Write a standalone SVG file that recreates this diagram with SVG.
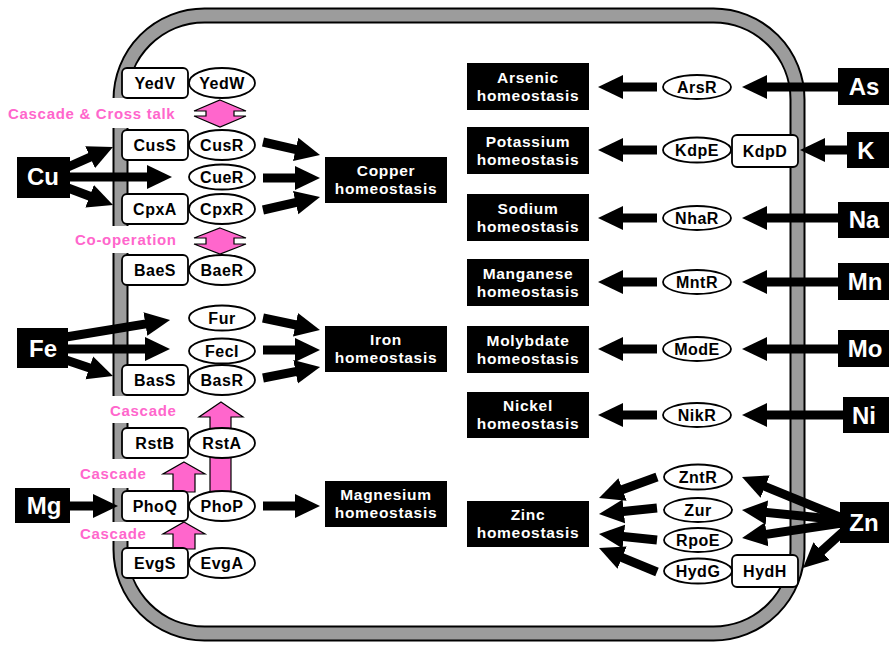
<svg xmlns="http://www.w3.org/2000/svg" width="889" height="645" viewBox="0 0 889 645">
  <style>
    text { font-family: "Liberation Sans", Arial, Helvetica, sans-serif; font-weight: bold; }
    .box { fill: #fff; stroke: #000; stroke-width: 1.8; }
    .lbl { font-size: 16px; letter-spacing: 0.5px; text-anchor: middle; fill: #000; }
    .ion { fill: #000; }
    .ion-t { font-size: 24px; text-anchor: middle; fill: #fff; }
    .home { fill: #000; }
    .home-t { font-size: 15.5px; letter-spacing: 0.7px; text-anchor: middle; fill: #fff; }
    .note { font-size: 15px; letter-spacing: 0.7px; fill: #ff66cc; }
    .pk { fill: #ff66cc; stroke: #000; stroke-width: 1.2; stroke-linejoin: miter; }
    .arr { fill: none; stroke: #000; stroke-width: 9; marker-end: url(#ah); }
    .mask { fill: #fff; }
  </style>
  <defs>
    <marker id="ah" markerUnits="userSpaceOnUse" markerWidth="25" markerHeight="25" viewBox="0 0 25 25" refX="13" refY="12.5" orient="auto">
      <path d="M0,0.5 L25,12.5 L0,24.5 z" fill="#000"/>
    </marker>
  </defs>

  <rect width="889" height="645" fill="#fff"/>

  <!-- cell membrane: grey band with black edges -->
  <g id="membrane">
    <rect x="120.5" y="15.5" width="677" height="618" rx="84" ry="84" fill="none" stroke="#000" stroke-width="16"/>
    <rect x="120.5" y="15.5" width="677" height="618" rx="84" ry="84" fill="none" stroke="#9c9c9c" stroke-width="12"/>
    <!-- openings in the membrane next to the side labels -->
    <rect class="mask" x="104" y="98" width="32" height="30"/>
    <rect class="mask" x="104" y="226" width="32" height="27"/>
    <rect class="mask" x="104" y="396" width="32" height="27"/>
    <rect class="mask" x="104" y="459" width="32" height="29"/>
    <rect class="mask" x="104" y="522" width="32" height="19"/>
  </g>

  <!-- interaction labels -->
  <g id="notes">
    <text class="note" x="8" y="119">Cascade &amp; Cross talk</text>
    <text class="note" x="75" y="245">Co-operation</text>
    <text class="note" x="110" y="416">Cascade</text>
    <text class="note" x="80" y="479">Cascade</text>
    <text class="note" x="80" y="539">Cascade</text>
  </g>

  <g id="connectors">
    <!-- Cu inputs -->
    <path class="arr" d="M68,167 L102,151.9"/>
    <path class="arr" d="M68,177 L160,177"/>
    <path class="arr" d="M68,188 L101.8,200.8"/>
    <!-- to copper homeostasis -->
    <path class="arr" d="M263,142 L308.3,152.3"/>
    <path class="arr" d="M263,178 L308,178"/>
    <path class="arr" d="M263,210 L308.3,199.7"/>
    <!-- Fe inputs -->
    <path class="arr" d="M66,337 L158.2,321.9"/>
    <path class="arr" d="M66,349 L158,349"/>
    <path class="arr" d="M66,360 L101.6,372.1"/>
    <!-- to iron homeostasis -->
    <path class="arr" d="M263,318 L308.2,327.5"/>
    <path class="arr" d="M263,350 L308,350"/>
    <path class="arr" d="M263,378 L308.3,369.2"/>
    <!-- Mg input and magnesium homeostasis -->
    <path class="arr" d="M68,506 L106,506"/>
    <path class="arr" d="M263,506 L308,506"/>

    <!-- cross-regulation (pink) -->
    <polygon class="pk" points="220,100 246,111 234,111 234,116 246,116 220,127 194,116 206,116 206,111 194,111"/>
    <polygon class="pk" points="220,228 246,238 234,238 234,244 246,244 220,254 194,244 206,244 206,238 194,238"/>
    <polygon class="pk" points="221,402 243,417 231,417 231,493 210,493 210,417 199,417"/>
    <polygon class="pk" points="184,462 205,474 195,474 195,492 173,492 173,474 163,474"/>
    <polygon class="pk" points="184,522 205,534 195,534 195,549 173,549 173,534 163,534"/>

    <!-- right side: ion -> regulator -->
    <path class="arr" d="M842,87 L754,87"/>
    <path class="arr" d="M850,150 L812,150"/>
    <path class="arr" d="M842,218 L754,218"/>
    <path class="arr" d="M842,282 L754,282"/>
    <path class="arr" d="M842,349 L754,349"/>
    <path class="arr" d="M846,415 L754,415"/>
    <!-- right side: regulator -> homeostasis -->
    <path class="arr" d="M657,87 L610,87"/>
    <path class="arr" d="M657,150 L610,150"/>
    <path class="arr" d="M657,218 L610,218"/>
    <path class="arr" d="M657,282 L610,282"/>
    <path class="arr" d="M657,349 L610,349"/>
    <path class="arr" d="M657,415 L610,415"/>
    <!-- Zn inputs -->
    <path class="arr" d="M842,518 L753.1,481.6"/>
    <path class="arr" d="M842,520 L753.9,511.2"/>
    <path class="arr" d="M842,523 L753.9,536.2"/>
    <path class="arr" d="M845,530 L811.9,559.9"/>
    <!-- to zinc homeostasis -->
    <path class="arr" d="M657,477 L610.3,493.9"/>
    <path class="arr" d="M657,508 L610.9,512.8"/>
    <path class="arr" d="M657,540 L610.9,535.2"/>
    <path class="arr" d="M657,572 L610.1,552.6"/>
  </g>

  <!-- metal ions -->
  <g id="ion-Cu"><rect class="ion" x="17" y="157" width="53" height="41"/><text class="ion-t" x="43" y="185">Cu</text></g>
  <g id="ion-Fe"><rect class="ion" x="17" y="328" width="51" height="40"/><text class="ion-t" x="43" y="357">Fe</text></g>
  <g id="ion-Mg"><rect class="ion" x="15" y="488" width="55" height="35"/><text class="ion-t" x="44" y="514">Mg</text></g>
  <g id="ion-As"><rect class="ion" x="838" y="68" width="51" height="37"/><text class="ion-t" x="864" y="95">As</text></g>
  <g id="ion-K"><rect class="ion" x="847" y="132" width="42" height="36"/><text class="ion-t" x="866" y="159">K</text></g>
  <g id="ion-Na"><rect class="ion" x="838" y="202" width="51" height="36"/><text class="ion-t" x="864" y="228">Na</text></g>
  <g id="ion-Mn"><rect class="ion" x="838" y="263" width="51" height="37"/><text class="ion-t" x="865" y="290">Mn</text></g>
  <g id="ion-Mo"><rect class="ion" x="838" y="330" width="51" height="37"/><text class="ion-t" x="865" y="357">Mo</text></g>
  <g id="ion-Ni"><rect class="ion" x="843" y="397" width="46" height="36"/><text class="ion-t" x="864" y="424">Ni</text></g>
  <g id="ion-Zn"><rect class="ion" x="840" y="502" width="49" height="41"/><text class="ion-t" x="864" y="531">Zn</text></g>

  <!-- sensor kinases (membrane) -->
  <g id="YedV"><rect class="box" x="122" y="68" width="66" height="30" rx="5"/><text class="lbl" x="155" y="88.5">YedV</text></g>
  <g id="CusS"><rect class="box" x="122" y="130" width="66" height="30" rx="5"/><text class="lbl" x="155" y="150.5">CusS</text></g>
  <g id="CpxA"><rect class="box" x="122" y="194" width="66" height="30" rx="5"/><text class="lbl" x="155" y="214.5">CpxA</text></g>
  <g id="BaeS"><rect class="box" x="122" y="255" width="66" height="30" rx="5"/><text class="lbl" x="155" y="275.5">BaeS</text></g>
  <g id="BasS"><rect class="box" x="122" y="365" width="66" height="30" rx="5"/><text class="lbl" x="155" y="385.5">BasS</text></g>
  <g id="RstB"><rect class="box" x="122" y="428" width="66" height="30" rx="5"/><text class="lbl" x="155" y="448.5">RstB</text></g>
  <g id="PhoQ"><rect class="box" x="122" y="491" width="66" height="30" rx="5"/><text class="lbl" x="155" y="511.5">PhoQ</text></g>
  <g id="EvgS"><rect class="box" x="122" y="548" width="66" height="30" rx="5"/><text class="lbl" x="155" y="568.5">EvgS</text></g>
  <g id="KdpD"><rect class="box" x="732" y="135" width="66" height="32" rx="5"/><text class="lbl" x="765" y="156.5">KdpD</text></g>
  <g id="HydH"><rect class="box" x="732" y="555" width="66" height="32" rx="5"/><text class="lbl" x="765" y="576.5">HydH</text></g>

  <!-- regulators -->
  <g id="YedW"><ellipse class="box" cx="222" cy="83" rx="33" ry="15"/><text class="lbl" x="222" y="88.5">YedW</text></g>
  <g id="CusR"><ellipse class="box" cx="222" cy="145" rx="33" ry="15"/><text class="lbl" x="222" y="150.5">CusR</text></g>
  <g id="CueR"><ellipse class="box" cx="222" cy="177" rx="33" ry="12.5"/><text class="lbl" x="222" y="182.5">CueR</text></g>
  <g id="CpxR"><ellipse class="box" cx="222" cy="209" rx="33" ry="15"/><text class="lbl" x="222" y="214.5">CpxR</text></g>
  <g id="BaeR"><ellipse class="box" cx="222" cy="270" rx="33" ry="15"/><text class="lbl" x="222" y="275.5">BaeR</text></g>
  <g id="Fur"><ellipse class="box" cx="222" cy="318" rx="33" ry="12.5"/><text class="lbl" x="222" y="323.5">Fur</text></g>
  <g id="FecI"><ellipse class="box" cx="222" cy="351" rx="33" ry="12.5"/><text class="lbl" x="222" y="356.5">FecI</text></g>
  <g id="BasR"><ellipse class="box" cx="222" cy="380" rx="33" ry="15"/><text class="lbl" x="222" y="385.5">BasR</text></g>
  <g id="RstA"><ellipse class="box" cx="222" cy="443" rx="33" ry="15"/><text class="lbl" x="222" y="448.5">RstA</text></g>
  <g id="PhoP"><ellipse class="box" cx="222" cy="506" rx="33" ry="15"/><text class="lbl" x="222" y="511.5">PhoP</text></g>
  <g id="EvgA"><ellipse class="box" cx="222" cy="563" rx="33" ry="15"/><text class="lbl" x="222" y="568.5">EvgA</text></g>
  <g id="ArsR"><ellipse class="box" cx="697" cy="87" rx="34" ry="12"/><text class="lbl" x="697" y="92.5">ArsR</text></g>
  <g id="KdpE"><ellipse class="box" cx="697" cy="150" rx="34" ry="12.5"/><text class="lbl" x="697" y="155.5">KdpE</text></g>
  <g id="NhaR"><ellipse class="box" cx="697" cy="218" rx="34" ry="12"/><text class="lbl" x="697" y="223.5">NhaR</text></g>
  <g id="MntR"><ellipse class="box" cx="697" cy="282" rx="34" ry="12"/><text class="lbl" x="697" y="287.5">MntR</text></g>
  <g id="ModE"><ellipse class="box" cx="697" cy="349" rx="34" ry="12"/><text class="lbl" x="697" y="354.5">ModE</text></g>
  <g id="NikR"><ellipse class="box" cx="697" cy="415" rx="34" ry="12"/><text class="lbl" x="697" y="420.5">NikR</text></g>
  <g id="ZntR"><ellipse class="box" cx="698" cy="477" rx="34" ry="12.5"/><text class="lbl" x="698" y="482.5">ZntR</text></g>
  <g id="Zur"><ellipse class="box" cx="698" cy="510" rx="34" ry="12"/><text class="lbl" x="698" y="515.5">Zur</text></g>
  <g id="RpoE"><ellipse class="box" cx="698" cy="540" rx="34" ry="12"/><text class="lbl" x="698" y="545.5">RpoE</text></g>
  <g id="HydG"><ellipse class="box" cx="698" cy="571" rx="34" ry="12.5"/><text class="lbl" x="698" y="576.5">HydG</text></g>

  <!-- homeostasis outcomes -->
  <g id="copper-homeostasis"><rect class="home" x="325" y="157" width="122" height="46"/><text class="home-t" x="386" y="176">Copper</text><text class="home-t" x="386" y="194">homeostasis</text></g>
  <g id="iron-homeostasis"><rect class="home" x="325" y="326" width="122" height="46"/><text class="home-t" x="386" y="345">Iron</text><text class="home-t" x="386" y="363">homeostasis</text></g>
  <g id="magnesium-homeostasis"><rect class="home" x="325" y="481" width="122" height="46"/><text class="home-t" x="386" y="500">Magnesium</text><text class="home-t" x="386" y="518">homeostasis</text></g>
  <g id="arsenic-homeostasis"><rect class="home" x="467" y="63" width="122" height="47"/><text class="home-t" x="528" y="83">Arsenic</text><text class="home-t" x="528" y="101">homeostasis</text></g>
  <g id="potassium-homeostasis"><rect class="home" x="467" y="127" width="122" height="47"/><text class="home-t" x="528" y="147">Potassium</text><text class="home-t" x="528" y="165">homeostasis</text></g>
  <g id="sodium-homeostasis"><rect class="home" x="467" y="194" width="122" height="47"/><text class="home-t" x="528" y="214">Sodium</text><text class="home-t" x="528" y="232">homeostasis</text></g>
  <g id="manganese-homeostasis"><rect class="home" x="467" y="259" width="122" height="47"/><text class="home-t" x="528" y="279">Manganese</text><text class="home-t" x="528" y="297">homeostasis</text></g>
  <g id="molybdate-homeostasis"><rect class="home" x="467" y="326" width="122" height="47"/><text class="home-t" x="528" y="346">Molybdate</text><text class="home-t" x="528" y="364">homeostasis</text></g>
  <g id="nickel-homeostasis"><rect class="home" x="467" y="392" width="122" height="46"/><text class="home-t" x="528" y="411">Nickel</text><text class="home-t" x="528" y="429">homeostasis</text></g>
  <g id="zinc-homeostasis"><rect class="home" x="467" y="501" width="122" height="46"/><text class="home-t" x="528" y="520">Zinc</text><text class="home-t" x="528" y="538">homeostasis</text></g>
</svg>
